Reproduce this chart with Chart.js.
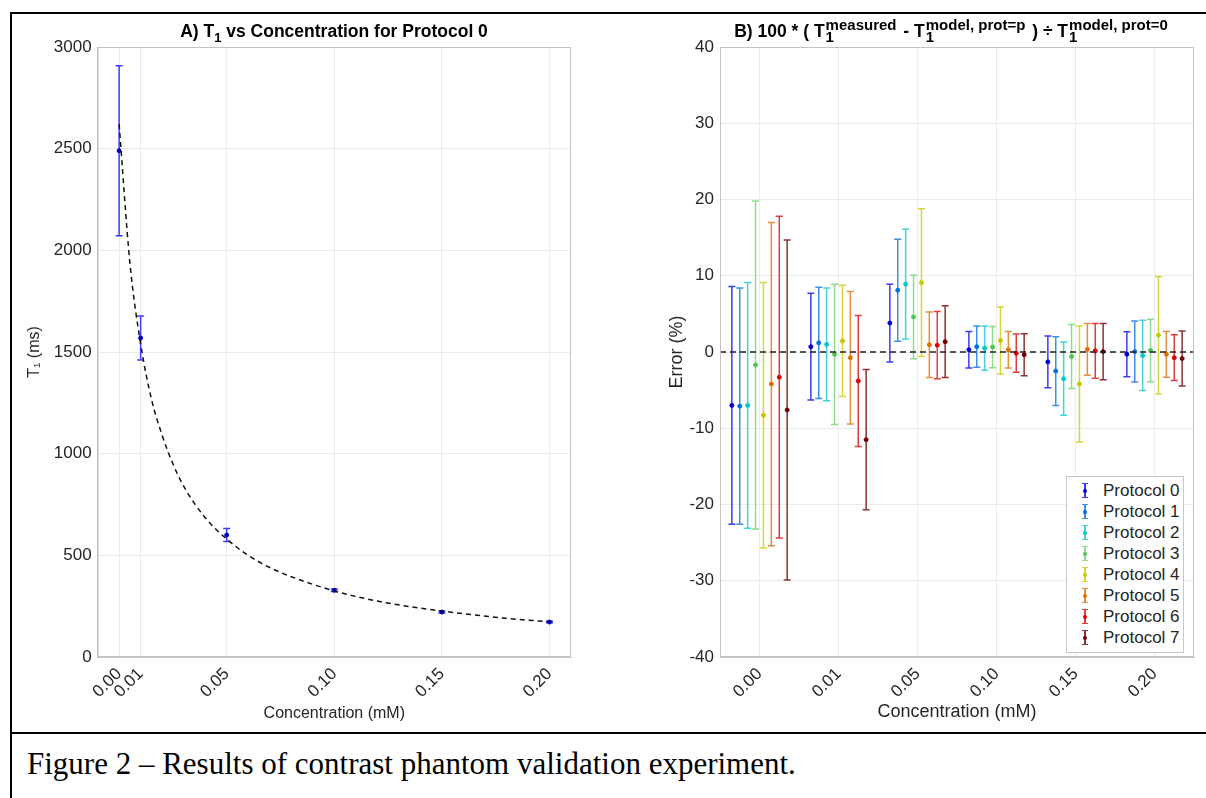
<!DOCTYPE html>
<html>
<head>
<meta charset="utf-8">
<script src="https://cdn.jsdelivr.net/npm/chart.js@4/dist/chart.umd.min.js"></script>
<style>
  body { margin: 0; background: #fff; }
  #fig { position: relative; width: 1206px; height: 798px; overflow: hidden; font-family: "Liberation Sans", Arial, Helvetica, sans-serif; }
  canvas { position: absolute; top: 0; }
  #left { left: 0; }
  #right { left: 600px; }
  .rule { position: absolute; background: #000; }
  .title { position: absolute; top: 19px; font-weight: bold; font-size: 17.5px; color: #000; white-space: nowrap; transform: translateX(-50%); line-height: 24px; }
  .title sub { font-size: 13px; vertical-align: -5px; }
  .ss { display: inline-block; vertical-align: -5px; font-size: 15px; line-height: 12px; margin-left: 1px; margin-right: 2px; text-align: left; }
  .ss span { display: block; }
  #legend { position: absolute; left: 1066px; top: 476px; width: 118px; height: 177px; box-sizing: border-box; border: 1px solid #c8c8c8; background: #fff; padding-top: 3px; }
  .row { position: relative; height: 21px; line-height: 21px; font-size: 17px; color: #262626; padding-left: 36px; }
  .glyph { position: absolute; left: 17px; top: 3px; width: 2px; height: 15px; }
  .glyph::before, .glyph::after { content: ""; position: absolute; left: -2px; width: 6px; height: 1px; background: inherit; }
  .glyph::before { top: 0; }
  .glyph::after { bottom: 0; }
  .glyph i { position: absolute; left: -1px; top: 6px; width: 4px; height: 4px; border-radius: 2px; }
  #caption { position: absolute; left: 27px; top: 747px; font-family: "Liberation Serif", "Times New Roman", serif; font-size: 31px; line-height: 34px; color: #000; white-space: nowrap; }
</style>
</head>
<body>
<div id="fig">
  <canvas id="left" width="600" height="730"></canvas>
  <canvas id="right" width="606" height="730"></canvas>
  <div class="title" style="left:334px">A) T<sub>1</sub> vs Concentration for Protocol 0</div>
  <div class="title" style="left:952px">B) 100 * ( T<span class="ss"><span>measured</span><span>1</span></span> - T<span class="ss"><span>model, prot=p</span><span>1</span></span> ) ÷ T<span class="ss"><span>model, prot=0</span><span>1</span></span></div>
  <div id="legend"></div>
  <div class="rule" style="left:10px; top:12px; width:1196px; height:2px"></div>
  <div class="rule" style="left:10px; top:12px; width:2px; height:786px"></div>
  <div class="rule" style="left:10px; top:732px; width:1196px; height:2px"></div>
  <div id="caption">Figure 2 – Results of contrast phantom validation experiment.</div>
</div>
<script>
// panel A: protocol 0 measurements and fitted model
const concValues = [0, 0.01, 0.05, 0.10, 0.15, 0.20]
const t1Measured = [2490, 1569, 600, 328, 221, 172]
const t1Sd = [418, 108, 32, 6, 5, 4]
const modelConc = [0, 0.005, 0.01, 0.015, 0.02, 0.025, 0.03, 0.04, 0.05, 0.06, 0.07, 0.08, 0.10, 0.12, 0.14, 0.16, 0.18, 0.20]
const modelT1 = [2620, 1940, 1540, 1270, 1090, 950, 840, 685, 580, 500, 440, 395, 325, 275, 240, 213, 190, 173]
const t1Ticks = [0, 500, 1000, 1500, 2000, 2500, 3000]

// panel B: percent error per protocol (rows) and concentration (columns)
const concLabels = ["0.00", "0.01", "0.05", "0.10", "0.15", "0.20"]
const protocols = ["Protocol 0", "Protocol 1", "Protocol 2", "Protocol 3", "Protocol 4", "Protocol 5", "Protocol 6", "Protocol 7"]
const errorPct = [
  [-7.0, 0.7, 3.8, 0.3, -1.3, -0.3],
  [-7.1, 1.2, 8.1, 0.7, -2.5, 0.05],
  [-7.0, 1.0, 8.9, 0.5, -3.5, -0.45],
  [-1.7, -0.3, 4.6, 0.65, -0.6, 0.2],
  [-8.3, 1.45, 9.1, 1.5, -4.2, 2.2],
  [-4.2, -0.75, 0.95, 0.3, 0.35, -0.3],
  [-3.3, -3.8, 0.9, -0.15, 0.15, -0.75],
  [-7.6, -11.5, 1.35, -0.35, 0.05, -0.85],
]
const errorSd = [
  [15.6, 7.0, 5.1, 2.4, 3.4, 2.95],
  [15.5, 7.3, 6.7, 2.7, 4.5, 4.0],
  [16.1, 7.4, 7.2, 2.9, 4.8, 4.6],
  [21.5, 9.2, 5.5, 2.7, 4.2, 4.1],
  [17.4, 7.3, 9.7, 4.4, 7.6, 7.7],
  [21.2, 8.7, 4.3, 2.4, 3.4, 3.0],
  [21.1, 8.6, 4.4, 2.5, 3.6, 3.0],
  [22.3, 9.2, 4.7, 2.75, 3.7, 3.6],
]
const errorTicks = [-40, -30, -20, -10, 0, 10, 20, 30, 40]

const barColors = ["#3c3cf0", "#3d8fe8", "#45d3d8", "#8edc8e", "#d6d63c", "#e0903c", "#e23c3c", "#8c3434"]
const dotColors = ["#0000d0", "#0070e0", "#00c8c8", "#50c850", "#c8c800", "#e07000", "#e00000", "#700000"]

const FONT = "'Liberation Sans', Arial, Helvetica, sans-serif"
const TICK = "#262626"
const GRID = "#ebebeb"
const BOX = "#c4c4c4"

// draws vertical error bars with caps under the points
const errorBarPlugin = {
  id: "errorBars",
  beforeDatasetsDraw(chart) {
    const ctx = chart.ctx
    const yScale = chart.scales.y
    chart.data.datasets.forEach((ds, di) => {
      if (!ds.errorBars) return
      const meta = chart.getDatasetMeta(di)
      ctx.save()
      ctx.strokeStyle = ds.barColor
      ctx.lineWidth = 1.5
      meta.data.forEach((pt, i) => {
        const v = ds.data[i].y
        const e = ds.errorBars[i]
        const top = yScale.getPixelForValue(v + e)
        const bot = yScale.getPixelForValue(v - e)
        ctx.beginPath()
        ctx.moveTo(pt.x, top)
        ctx.lineTo(pt.x, bot)
        ctx.moveTo(pt.x - 3.5, top)
        ctx.lineTo(pt.x + 3.5, top)
        ctx.moveTo(pt.x - 3.5, bot)
        ctx.lineTo(pt.x + 3.5, bot)
        ctx.stroke()
      })
      ctx.restore()
    })
  },
}

// full box round the plot area, plus optional dashed zero line
const boxPlugin = {
  id: "box",
  afterDatasetsDraw(chart, args, opts) {
    const { ctx, chartArea: a } = chart
    ctx.save()
    if (opts.zeroLine) {
      const y0 = chart.scales.y.getPixelForValue(0)
      ctx.strokeStyle = "#222"
      ctx.lineWidth = 1.5
      ctx.setLineDash([6, 4])
      ctx.beginPath()
      ctx.moveTo(a.left, y0)
      ctx.lineTo(a.right, y0)
      ctx.stroke()
      ctx.setLineDash([])
    }
    ctx.strokeStyle = BOX
    ctx.lineWidth = 1
    ctx.strokeRect(a.left + 0.5, a.top + 0.5, a.right - a.left - 1, a.bottom - a.top - 1)
    ctx.restore()
  },
}

function xAxis(min, max, values, label, titleSize, fit) {
  return {
    type: "linear",
    min: min,
    max: max,
    afterBuildTicks: (s) => { s.ticks = values.map((v) => ({ value: v })) },
    afterFit: (s) => { s.height = fit },
    grid: { color: GRID, drawTicks: false },
    border: { color: BOX },
    ticks: {
      autoSkip: false,
      minRotation: 45,
      maxRotation: 45,
      padding: 7,
      color: TICK,
      font: { family: FONT, size: 17 },
      callback: label,
    },
    title: { display: true, text: "Concentration (mM)", color: TICK, font: { family: FONT, size: titleSize }, padding: { top: 0, bottom: 7 } },
  }
}

function yAxis(min, max, values, text, tickSize, titleSize, titlePad, fit) {
  return {
    min: min,
    max: max,
    afterBuildTicks: (s) => { s.ticks = values.map((v) => ({ value: v })) },
    afterFit: (s) => { s.width = fit },
    grid: { color: GRID, drawTicks: false },
    border: { color: BOX },
    ticks: { padding: 6, color: TICK, font: { family: FONT, size: tickSize }, callback: (v) => String(v) },
    title: { display: true, text: text, color: TICK, font: { family: FONT, size: titleSize }, padding: { top: titlePad, bottom: 0 } },
  }
}

new Chart(document.getElementById("left"), {
  type: "scatter",
  data: {
    datasets: [
      {
        type: "line",
        data: modelConc.map((c, i) => ({ x: c, y: modelT1[i] })),
        borderColor: "#111",
        borderWidth: 1.5,
        borderDash: [5, 4],
        pointRadius: 0,
        cubicInterpolationMode: "monotone",
        fill: false,
      },
      {
        data: concValues.map((c, i) => ({ x: c, y: t1Measured[i] })),
        errorBars: t1Sd,
        barColor: "#3c3cff",
        backgroundColor: "#0000c0",
        borderColor: "#0000c0",
        pointRadius: 2,
      },
    ],
  },
  options: {
    responsive: false,
    animation: false,
    layout: { padding: { left: 0, top: 47, right: 29, bottom: 0 } },
    plugins: { legend: { display: false }, tooltip: { enabled: false }, box: {} },
    scales: {
      x: xAxis(-0.01, 0.21, concValues, (v) => v.toFixed(2), 16, 73),
      y: yAxis(0, 3000, t1Ticks, "T\u2081 (ms)", 17, 16, 25, 97.6),
    },
  },
  plugins: [errorBarPlugin, boxPlugin],
})

new Chart(document.getElementById("right"), {
  type: "scatter",
  data: {
    datasets: protocols.map((name, p) => ({
      label: name,
      data: errorPct[p].map((v, i) => ({ x: i + (p - 3.5) * 0.1, y: v })),
      errorBars: errorSd[p],
      barColor: barColors[p],
      backgroundColor: dotColors[p],
      borderColor: dotColors[p],
      pointRadius: 2,
    })),
  },
  options: {
    responsive: false,
    animation: false,
    layout: { padding: { left: 0, top: 47, right: 12, bottom: 0 } },
    plugins: { legend: { display: false }, tooltip: { enabled: false }, box: { zeroLine: true } },
    scales: {
      x: xAxis(-0.5, 5.5, concLabels.map((c, i) => i), (v) => concLabels[v], 18, 73),
      y: yAxis(-40, 40, errorTicks, "Error (%)", 17, 18, 66, 120),
    },
  },
  plugins: [errorBarPlugin, boxPlugin],
})

// legend built from the protocol list
const legend = document.getElementById("legend")
protocols.forEach((name, p) => {
  const row = document.createElement("div")
  row.className = "row"
  row.innerHTML = `<span class="glyph" style="background:${barColors[p]}"><i style="background:${dotColors[p]}"></i></span>${name}`
  legend.appendChild(row)
})
</script>
</body>
</html>
